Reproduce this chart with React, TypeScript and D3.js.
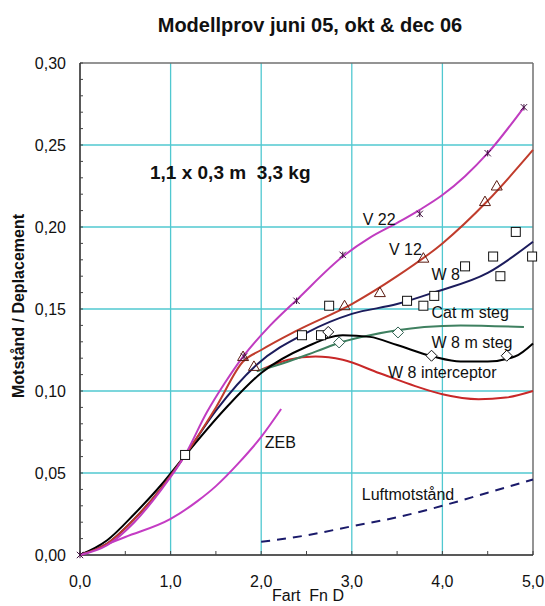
import React from 'react';
import * as d3 from 'd3';

// curve data [Fn D, Motstånd / Deplacement]
const v22Line = [[0, 0], [0.3, 0.006], [0.6, 0.02], [0.9, 0.04], [1.15, 0.06], [1.4, 0.087], [1.6, 0.105], [1.8, 0.121], [2.1, 0.14], [2.4, 0.156], [2.9, 0.182], [3.2, 0.1935], [3.5, 0.2025], [3.75, 0.2105], [4.0, 0.2195], [4.25, 0.231], [4.5, 0.245], [4.9, 0.273]];
const v12Line = [[0, 0], [0.3, 0.007], [0.6, 0.022], [0.9, 0.041], [1.15, 0.06], [1.5, 0.09], [1.8, 0.118], [2.0, 0.125], [2.4, 0.137], [3.0, 0.153], [3.5, 0.17], [4.0, 0.19], [4.5, 0.216], [5.0, 0.247]];
const w8Line = [[0, 0], [0.3, 0.007], [0.6, 0.022], [0.9, 0.041], [1.15, 0.06], [1.5, 0.088], [1.95, 0.116], [2.5, 0.1355], [3.0, 0.147], [3.5, 0.153], [3.9, 0.16], [4.5, 0.172], [5.0, 0.191]];
const w8StegLine = [[0, 0], [0.3, 0.009], [0.6, 0.025], [0.9, 0.043], [1.15, 0.06], [1.6, 0.089], [2.0, 0.111], [2.5, 0.127], [2.9, 0.134], [3.2, 0.133], [3.5, 0.128], [3.9, 0.121], [4.2, 0.118], [4.5, 0.118], [4.8, 0.121], [5.0, 0.129]];
const catStegLine = [[1.95, 0.112], [2.3, 0.118], [2.6, 0.124], [2.9, 0.13], [3.2, 0.134], [3.5, 0.137], [3.8, 0.139], [4.2, 0.14], [4.9, 0.139]];
const interceptorLine = [[2.0, 0.113], [2.3, 0.119], [2.6, 0.121], [2.9, 0.119], [3.3, 0.111], [3.7, 0.103], [4.0, 0.098], [4.4, 0.095], [4.7, 0.096], [5.0, 0.1]];
const zebLine = [[0, 0], [0.5, 0.011], [1.0, 0.022], [1.3, 0.033], [1.5, 0.042], [1.75, 0.056], [2.0, 0.072], [2.22, 0.089]];
const luftLine = [[2.0, 0.008], [2.5, 0.012], [3.0, 0.0175], [3.5, 0.023], [4.0, 0.03], [4.5, 0.038], [5.0, 0.046]];

// measured points
const v22Points = [[0, 0], [1.81, 0.121], [2.39, 0.155], [2.9, 0.183], [3.75, 0.208], [4.5, 0.245], [4.9, 0.273]];
const v12Points = [[1.8, 0.121], [1.92, 0.115], [2.92, 0.152], [3.31, 0.16], [3.79, 0.181], [4.47, 0.2155], [4.6, 0.225]];
const w8Points = [[1.16, 0.061], [2.45, 0.134], [2.66, 0.134], [2.75, 0.152], [3.61, 0.155], [3.79, 0.152], [3.91, 0.158], [4.25, 0.176], [4.56, 0.182], [4.64, 0.17], [4.81, 0.197], [4.99, 0.182]];
const w8StegPoints = [[2.74, 0.136], [3.88, 0.1215], [4.71, 0.1215]];
const catStegPoints = [[2.86, 0.1296], [3.51, 0.1357]];

const xTicks = [0, 1, 2, 3, 4, 5];
const yTicks = [0, 0.05, 0.1, 0.15, 0.2, 0.25, 0.3];

const labels = [
  { text: 'V 22', x: 3.12, y: 0.201 },
  { text: 'V 12', x: 3.41, y: 0.1828 },
  { text: 'W 8', x: 3.88, y: 0.1675 },
  { text: 'Cat m steg', x: 3.88, y: 0.1444 },
  { text: 'W 8 m steg', x: 3.88, y: 0.126 },
  { text: 'W 8 interceptor', x: 3.4, y: 0.1078 },
  { text: 'ZEB', x: 2.04, y: 0.065 },
  { text: 'Luftmotstånd', x: 3.11, y: 0.0334 },
];

const W = 545, H = 606;
const margin = { top: 63, right: 12, bottom: 51, left: 80 };
const font = 'Arial, "Liberation Sans", sans-serif';

export default function App() {
  const x = d3.scaleLinear().domain([0, 5]).range([margin.left, W - margin.right]);
  const y = d3.scaleLinear().domain([0, 0.3]).range([H - margin.bottom, margin.top]);
  const fmt = (v: number, n: number) => v.toFixed(n).replace('.', ',');

  const line = d3.line<number[]>().x(d => x(d[0])).y(d => y(d[1])).curve(d3.curveMonotoneX);

  const grid = '#50c8d0';
  const yMinor = d3.range(0, 0.3001, 0.01);
  const xMinor = d3.range(0, 5.001, 0.5);

  const square = (p: number[], c: string, k: string) => (
    <rect key={k} x={x(p[0]) - 4.5} y={y(p[1]) - 4.5} width={9} height={9} fill="white" stroke={c} strokeWidth={1} />
  );
  const triangle = (p: number[], c: string, k: string) => {
    const cx = x(p[0]), cy = y(p[1]);
    return <path key={k} d={`M${cx},${cy - 5.5}L${cx + 5.5},${cy + 4}L${cx - 5.5},${cy + 4}Z`} fill="none" stroke={c} strokeWidth={1} />;
  };
  const diamond = (p: number[], c: string, k: string) => {
    const cx = x(p[0]), cy = y(p[1]);
    return <path key={k} d={`M${cx},${cy - 5.5}L${cx + 5.5},${cy}L${cx},${cy + 5.5}L${cx - 5.5},${cy}Z`} fill="white" stroke={c} strokeWidth={1} />;
  };
  const star = (p: number[], c: string, k: string) => {
    const cx = x(p[0]), cy = y(p[1]);
    const r = 3.2;
    return <path key={k} d={`M${cx - r},${cy - r}L${cx + r},${cy + r}M${cx + r},${cy - r}L${cx - r},${cy + r}M${cx},${cy - r}L${cx},${cy + r}`} fill="none" stroke={c} strokeWidth={1} />;
  };

  return (
    <svg width={W} height={H} style={{ position: 'absolute', left: 0, top: 0, background: 'white' }}>
      <rect width={W} height={H} fill="white" />
      {/* grid */}
      {xTicks.slice(1, -1).map(t => (
        <line key={'gx' + t} x1={x(t)} x2={x(t)} y1={y(0)} y2={y(0.3)} stroke={grid} strokeWidth={1.3} />
      ))}
      {yTicks.slice(1, -1).map(t => (
        <line key={'gy' + t} x1={x(0)} x2={x(5)} y1={y(t)} y2={y(t)} stroke={grid} strokeWidth={1.3} />
      ))}
      {/* frame */}
      <line x1={x(0)} x2={x(5)} y1={y(0.3)} y2={y(0.3)} stroke="#707070" strokeWidth={1.5} />
      <line x1={x(5)} x2={x(5)} y1={y(0.3)} y2={y(0)} stroke="#707070" strokeWidth={1.5} />
      <line x1={x(0)} x2={x(0)} y1={y(0.3)} y2={y(0)} stroke="#222" strokeWidth={1.5} />
      <line x1={x(0)} x2={x(5)} y1={y(0)} y2={y(0)} stroke="#222" strokeWidth={1.5} />
      {yMinor.map((t, i) => (
        <line key={'ym' + i} x1={x(0)} x2={x(0) + 3} y1={y(t)} y2={y(t)} stroke="#444" strokeWidth={1} />
      ))}
      {xMinor.map((t, i) => (
        <line key={'xm' + i} x1={x(t)} x2={x(t)} y1={y(0)} y2={y(0) - 4} stroke="#444" strokeWidth={1} />
      ))}
      {/* tick labels */}
      {yTicks.map(t => (
        <text key={'yl' + t} x={x(0) - 14} y={y(t) + 6} textAnchor="end" fontFamily={font} fontSize={16} fill="#111">{fmt(t, 2)}</text>
      ))}
      {xTicks.map(t => (
        <text key={'xl' + t} x={x(t)} y={y(0) + 32} textAnchor="middle" fontFamily={font} fontSize={16} fill="#111">{fmt(t, 1)}</text>
      ))}
      <text x={308} y={601} textAnchor="middle" fontFamily={font} fontSize={16} fill="#111" style={{ whiteSpace: 'pre' }}>Fart  Fn D</text>
      <text transform="translate(24,306) rotate(-90)" textAnchor="middle" fontFamily={font} fontSize={16} fontWeight="bold" fill="#111">Motstånd / Deplacement</text>
      <text x={310} y={32} textAnchor="middle" fontFamily={font} fontSize={20} fontWeight="bold" fill="#111">Modellprov juni 05, okt &amp; dec 06</text>
      <text x={150} y={179} fontFamily={font} fontSize={19} fontWeight="bold" fill="#111" style={{ whiteSpace: 'pre' }}>1,1 x 0,3 m  3,3 kg</text>

      {/* curves */}
      <path d={line(luftLine as any) || ''} fill="none" stroke="#1a1a6a" strokeWidth={2} strokeDasharray="9,7" />
      <path d={line(zebLine as any) || ''} fill="none" stroke="#c43cc4" strokeWidth={2} />
      <path d={line(interceptorLine as any) || ''} fill="none" stroke="#c82828" strokeWidth={2} />
      <path d={line(catStegLine as any) || ''} fill="none" stroke="#3f8060" strokeWidth={2} />
      <path d={line(w8StegLine as any) || ''} fill="none" stroke="#000" strokeWidth={2} />
      <path d={line(w8Line as any) || ''} fill="none" stroke="#1c1c5c" strokeWidth={2} />
      <path d={line(v12Line as any) || ''} fill="none" stroke="#c03c2c" strokeWidth={2} />
      <path d={line(v22Line as any) || ''} fill="none" stroke="#c03cc0" strokeWidth={2} />

      {/* markers */}
      {w8Points.map((p, i) => square(p, '#111', 'sq' + i))}
      {w8StegPoints.map((p, i) => diamond(p, '#111', 'di' + i))}
      {catStegPoints.map((p, i) => diamond(p, '#2f5f4f', 'dc' + i))}
      {v12Points.map((p, i) => triangle(p, '#5a1a10', 'tr' + i))}
      {v22Points.map((p, i) => star(p, '#401040', 'st' + i))}

      {/* series labels */}
      {labels.map(l => (
        <text key={l.text} x={x(l.x)} y={y(l.y)} fontFamily={font} fontSize={16} fill="#111" style={{ whiteSpace: 'pre' }}>{l.text}</text>
      ))}
    </svg>
  );
}
